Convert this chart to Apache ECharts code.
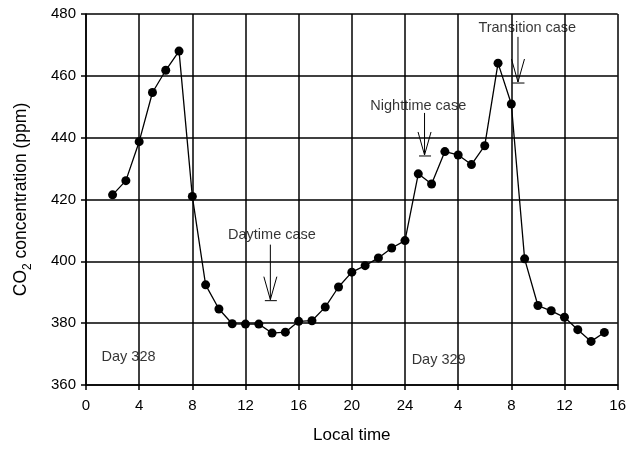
<!DOCTYPE html>
<html>
<head>
<meta charset="utf-8">
<script src="https://cdn.jsdelivr.net/npm/echarts@6/dist/echarts.min.js"></script>
<style>html,body{margin:0;padding:0;background:#fff}#c{width:629px;height:449px}</style>
</head>
<body>
<div id="c"></div>
<script>
// Hours since 0:00 of Day 328 (24 = midnight, 25..39 = Day 329 01..15 h)
var hours = [2,3,4,5,6,7,8,9,10,11,12,13,14,15,16,17,18,19,20,21,22,23,24,25,26,27,28,29,30,31,32,33,34,35,36,37,38,39];
var co2 = [421.5,426.1,438.7,454.6,461.8,468.0,421.0,392.4,384.6,379.8,379.7,379.7,376.8,377.1,380.6,380.8,385.2,391.7,396.5,398.6,401.1,404.3,406.7,428.3,425.0,435.5,434.4,431.3,437.4,464.1,450.9,400.8,385.7,384.0,381.9,377.9,374.1,377.0];

// Case annotations: label, arrow x, arrow top, arrow bottom, label x, label y
var caseNames = ['Daytime case','Nighttime case','Transition case'];
var caseArrowX = [13.87,25.47,32.5];
var caseArrowTop = [405.4,448.0,472.6];
var caseArrowBottom = [387.6,434.4,458.0];
var caseLabelX = [13.99,25.0,33.2];
var caseLabelY = [408.4,450.3,475.6];

var dayNames = ['Day 328','Day 329'];
var dayLabelX = [1.17,24.5];
var dayLabelY = [369.0,368.0];

var xMin = 0, xMax = 40, xStep = 4;
var yMin = 360, yMax = 480, yStep = 20;

var FONT = '"Liberation Sans", Arial, sans-serif';

var lineData = hours.map(function(h,i){return [h, co2[i]];});
var arrowData = caseArrowX.map(function(x,i){return [x, caseArrowTop[i], caseArrowBottom[i]];});
var caseTextData = caseNames.map(function(n,i){return {value:[caseLabelX[i], caseLabelY[i]], name:n};});
var dayTextData = dayNames.map(function(n,i){return {value:[dayLabelX[i], dayLabelY[i]], name:n};});

var chart = echarts.init(document.getElementById('c'), null, {renderer:'canvas'});
chart.setOption({
  animation:false,
  backgroundColor:'#fff',
  grid:{left:86, right:7, top:14, bottom:64, containLabel:false},
  xAxis:{
    type:'value', min:xMin, max:xMax, interval:xStep,
    name:'Local time', nameLocation:'middle', nameGap:42,
    nameTextStyle:{fontFamily:FONT, fontSize:17, color:'#000'},
    axisLine:{show:true, lineStyle:{color:'#000', width:1.5}},
    axisTick:{show:true, length:5, lineStyle:{color:'#000', width:1.5}},
    axisLabel:{fontFamily:FONT, fontSize:15, color:'#000', margin:13,
      formatter:function(v){return v > 24 ? String(v-24) : String(v);}},
    splitLine:{show:true, lineStyle:{color:'#000', width:1.5}}
  },
  yAxis:{
    type:'value', min:yMin, max:yMax, interval:yStep,
    name:'{a|CO}{s|2}{a| concentration (ppm)}', nameLocation:'middle', nameGap:52,
    nameTextStyle:{fontFamily:FONT, fontSize:17.5, color:'#000',
      rich:{a:{fontFamily:FONT, fontSize:17.5, color:'#000', lineHeight:26},
            s:{fontFamily:FONT, fontSize:12, color:'#000', verticalAlign:'bottom'}}},
    axisLine:{show:true, lineStyle:{color:'#000', width:1.5}},
    axisTick:{show:true, length:5, lineStyle:{color:'#000', width:1.5}},
    axisLabel:{fontFamily:FONT, fontSize:15, color:'#000', margin:10},
    splitLine:{show:true, lineStyle:{color:'#000', width:1.5}}
  },
  series:[
    {
      type:'line', data:lineData, symbol:'circle', symbolSize:9,
      lineStyle:{color:'#000', width:1.3},
      itemStyle:{color:'#000', borderWidth:0},
      z:5
    },
    {
      type:'custom', data:arrowData, z:4,
      renderItem:function(params, api){
        var top = api.coord([api.value(0), api.value(1)]);
        var bot = api.coord([api.value(0), api.value(2)]);
        var x = top[0], y0 = top[1], y1 = bot[1];
        var wing = Math.min(23, (y1 - y0) * 0.55);
        var st = {stroke:'#000', lineWidth:1, fill:null};
        return {type:'group', children:[
          {type:'line', shape:{x1:x, y1:y0, x2:x, y2:y1}, style:st},
          {type:'line', shape:{x1:x-6.5, y1:y1-wing, x2:x, y2:y1}, style:st},
          {type:'line', shape:{x1:x+6.5, y1:y1-wing, x2:x, y2:y1}, style:st},
          {type:'line', shape:{x1:x-5.5, y1:y1+1, x2:x+6.5, y2:y1+1}, style:st}
        ]};
      }
    },
    {
      type:'scatter', data:caseTextData, symbolSize:0, z:6,
      label:{show:true, position:'inside', formatter:function(p){return p.name;},
        fontFamily:FONT, fontSize:14.5, color:'#000', backgroundColor:'rgba(255,255,255,0)'}
    },
    {
      type:'scatter', data:dayTextData, symbolSize:0, z:6,
      label:{show:true, position:'right', distance:0, formatter:function(p){return p.name;},
        fontFamily:FONT, fontSize:14.5, color:'#000'}
    }
  ]
});
</script>
</body>
</html>
